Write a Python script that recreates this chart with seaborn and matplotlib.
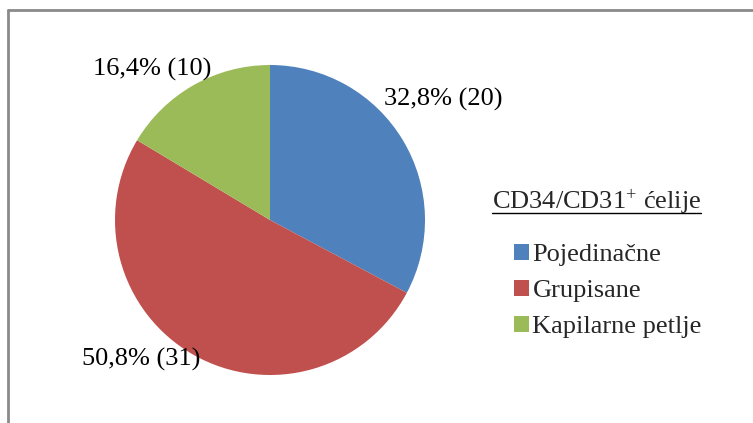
import matplotlib
matplotlib.use("Agg")
import matplotlib.pyplot as plt
import seaborn as sns
from matplotlib.patches import Patch
from matplotlib.lines import Line2D

sns.set_theme(style="white")
plt.rcParams['font.family'] = ['Liberation Serif', 'DejaVu Serif']
plt.rcParams['mathtext.fontset'] = 'custom'
plt.rcParams['mathtext.rm'] = 'Liberation Serif'
plt.rcParams['mathtext.it'] = 'Liberation Serif'

categories = ["Pojedinačne", "Grupisane", "Kapilarne petlje"]
counts = [20, 31, 10]
percent_labels = ["32,8% (20)", "50,8% (31)", "16,4% (10)"]
colors = ["#4F81BD", "#C0504D", "#9BBB59"]
legend_title = "CD34/CD31$^{+}$ ćelije"

W, H = 753, 423
FS = 19
fig = plt.figure(figsize=(W / 100, H / 100), dpi=100)

# border (top and left visible)
fig.add_artist(Line2D([8 / W, 1.0], [1 - 10 / H, 1 - 10 / H], transform=fig.transFigure,
                      color="#8a8a8a", lw=2))
fig.add_artist(Line2D([8 / W, 8 / W], [0, 1 - 10 / H], transform=fig.transFigure,
                      color="#8a8a8a", lw=2))

cx, cy, r = 270, 220, 155
ax = fig.add_axes([(cx - r) / W, (H - cy - r) / H, 2 * r / W, 2 * r / H])
wedges, texts = ax.pie(counts, colors=colors, startangle=90, counterclock=False,
                       labels=percent_labels, labeldistance=1.3,
                       wedgeprops=dict(linewidth=0),
                       textprops=dict(fontsize=FS, color="black"))
ax.set_xlim(-1, 1)
ax.set_ylim(-1, 1)
ax.set_aspect("auto")
ax.axis("off")

# adjust label placement (pixel positions of label centers)
label_pos = [(443, 99), (141, 359), (152, 69)]
for t, (px, py) in zip(texts, label_pos):
    t.set_position(((px - cx) / r, (cy - py) / r))
    t.set_ha("center")
    t.set_va("center")

# legend title with underline
title = fig.text(492 / W, 1 - 202 / H, legend_title, fontsize=FS, ha="left", va="center")
fig.canvas.draw()
bb = title.get_window_extent()
fig.add_artist(Line2D([bb.x0 / W, bb.x1 / W], [1 - 213 / H, 1 - 213 / H],
                      transform=fig.transFigure, color="black", lw=1))

handles = [Patch(facecolor=c, edgecolor="none") for c in colors]
fig.legend(handles, categories, loc="upper left", bbox_to_anchor=(514 / W, 1 - 244 / H),
           frameon=False, fontsize=FS, handlelength=0.55, handleheight=0.55,
           handletextpad=0.15, labelspacing=0.52, borderpad=0, borderaxespad=0)

fig.savefig("out.png", dpi=100)
